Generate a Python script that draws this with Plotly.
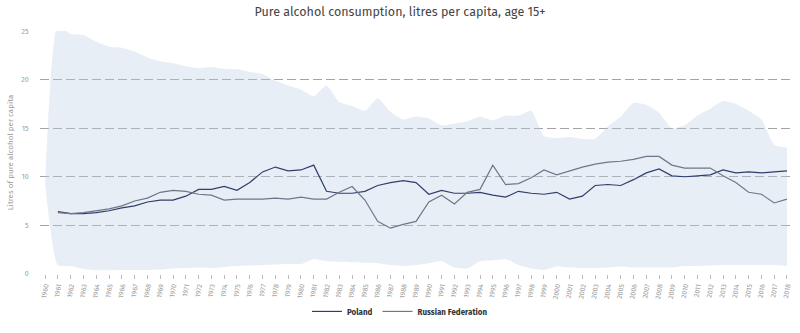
import plotly.graph_objects as go

years = list(range(1960, 2019))
tick_labels = [str(y) for y in years]

line_years = list(range(1961, 2019))
poland = [6.4, 6.2, 6.2, 6.3, 6.5, 6.8, 7.0, 7.4, 7.6, 7.6,
          8.0, 8.7, 8.7, 9.0, 8.6, 9.4, 10.5, 11.0, 10.6, 10.7,
          11.2, 8.5, 8.3, 8.3, 8.5, 9.1, 9.4, 9.6, 9.4, 8.2,
          8.6, 8.3, 8.3, 8.4, 8.1, 7.9, 8.5, 8.3, 8.2, 8.4,
          7.7, 8.0, 9.1, 9.2, 9.1, 9.7, 10.4, 10.8, 10.1, 10.0,
          10.1, 10.2, 10.7, 10.4, 10.5, 10.4, 10.5, 10.6]
russia = [6.3, 6.2, 6.3, 6.5, 6.7, 7.0, 7.5, 7.8, 8.4, 8.6,
          8.5, 8.2, 8.1, 7.6, 7.7, 7.7, 7.7, 7.8, 7.7, 7.9,
          7.7, 7.7, 8.4, 9.0, 7.6, 5.4, 4.7, 5.1, 5.4, 7.4,
          8.1, 7.2, 8.4, 8.7, 11.2, 9.2, 9.3, 9.9, 10.7, 10.2,
          10.6, 11.0, 11.3, 11.5, 11.6, 11.8, 12.1, 12.1, 11.2, 10.9,
          10.9, 10.9, 10.1, 9.4, 8.4, 8.2, 7.3, 7.7]

band_upper = [9.3, 25.6, 24.7, 24.6, 23.9, 23.4, 23.3, 22.9, 22.3, 21.9,
              21.7, 21.4, 21.2, 21.3, 21.1, 21.1, 20.8, 20.6, 19.9, 19.4,
              19.0, 18.3, 19.4, 17.7, 17.3, 16.8, 18.1, 16.7, 15.9, 16.2,
              16.0, 15.3, 15.5, 15.7, 16.2, 15.8, 16.3, 16.3, 16.8, 14.2,
              14.0, 14.1, 13.9, 13.9, 15.2, 16.2, 17.6, 17.4, 16.6, 15.0,
              15.3, 16.3, 17.0, 17.8, 17.5, 16.8, 15.9, 13.3, 13.0]
band_lower = [9.3, 0.87, 0.8, 0.5, 0.37, 0.37, 0.4, 0.4, 0.4, 0.45,
              0.55, 0.6, 0.65, 0.6, 0.7, 0.8, 0.85, 0.9, 0.95, 1.0,
              1.0, 1.5, 1.3, 1.25, 1.2, 1.15, 1.1, 0.9, 0.8, 0.9,
              1.1, 1.3, 0.65, 0.55, 1.3, 1.4, 1.5, 0.9, 0.55, 0.4,
              0.75, 0.65, 0.6, 0.6, 0.65, 0.75, 0.65, 0.65, 0.65, 0.65,
              0.8, 0.8, 0.85, 0.9, 0.9, 0.9, 0.9, 0.9, 0.8]

band_fill = "rgba(190,205,225,0.35)"
poland_color = "#2f3f6c"
russia_color = "#6e7789"
font_family = "Fira Sans, Lato, Open Sans, sans-serif"

fig = go.Figure()
fig.add_trace(go.Scatter(x=years, y=band_lower, mode="lines",
                         line=dict(width=0, shape="spline", smoothing=0.55),
                         showlegend=False, hoverinfo="skip"))
fig.add_trace(go.Scatter(x=years, y=band_upper, mode="lines", fill="tonexty",
                         fillcolor=band_fill,
                         line=dict(width=0, shape="spline", smoothing=0.55),
                         showlegend=False, hoverinfo="skip"))
fig.add_trace(go.Scatter(x=line_years, y=poland, mode="lines", name="Poland",
                         line=dict(color=poland_color, width=1.2)))
fig.add_trace(go.Scatter(x=line_years, y=russia, mode="lines", name="Russian Federation",
                         line=dict(color=russia_color, width=1.2)))

fig.update_layout(
    width=800, height=333,
    margin=dict(l=40, r=7, t=31, b=55),
    paper_bgcolor="white", plot_bgcolor="white",
    font=dict(family=font_family, color="#555"),
    title=dict(text="Pure alcohol consumption, litres per capita, age 15+",
               x=0.5, xanchor="center", y=1 - 12 / 333, yanchor="middle",
               font=dict(size=12.5, color="#444")),
    legend=dict(orientation="h", x=0.478, xanchor="center", y=-0.154, yanchor="middle",
                traceorder="normal",
                font=dict(size=8, color="#333", weight="bold"),
                bgcolor="rgba(0,0,0,0)"),
    xaxis=dict(range=[1959.6, 2018.47], tickmode="array", tickvals=years,
               ticktext=tick_labels, tickangle=-80, automargin=False,
               tickfont=dict(size=7, color="#999"),
               ticks="outside", ticklen=4, tickcolor="#bbb",
               showgrid=False, zeroline=False, showline=False),
    yaxis=dict(range=[-0.02, 25.02], tickvals=[0, 5, 10, 15, 20, 25],
               automargin=False,
               tickfont=dict(size=7, color="#999"),
               ticks="outside", ticklen=9, tickcolor="rgba(0,0,0,0)",
               showgrid=True, gridcolor="#a4a4a4", gridwidth=1.3, griddash="9px,4px",
               zeroline=False, showline=False,
               title=dict(text="Litres of pure alcohol per capita",
                          font=dict(size=8, color="#999"), standoff=6)),
)

fig.write_html("out.html")
